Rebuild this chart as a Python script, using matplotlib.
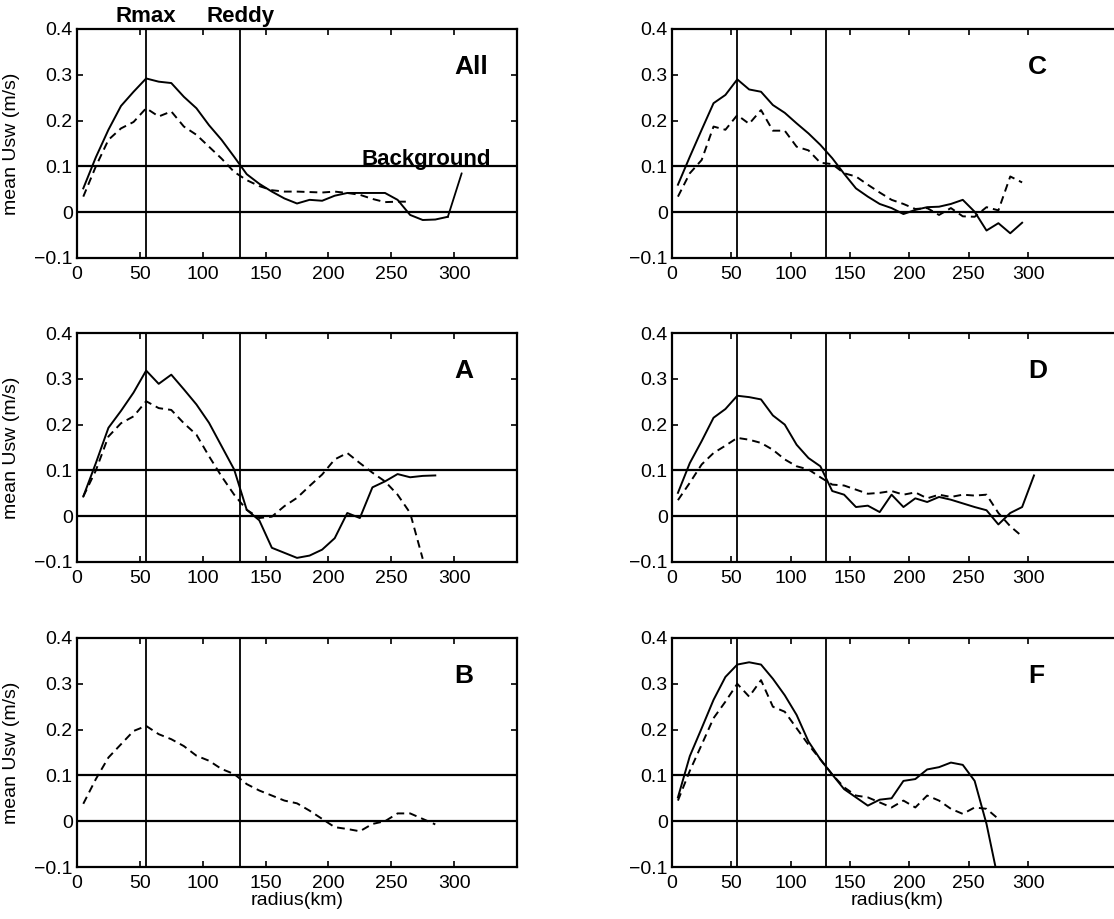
import matplotlib
matplotlib.use("Agg")
import matplotlib.pyplot as plt
from matplotlib.ticker import FixedLocator, FixedFormatter

plt.rcParams['font.family'] = ['Liberation Sans', 'DejaVu Sans']

# radius bins (km), centres every 10 km
r = [5, 15, 25, 35, 45, 55, 65, 75, 85, 95, 105, 115, 125, 135, 145, 155,
     165, 175, 185, 195, 205, 215, 225, 235, 245, 255, 265, 275, 285, 295, 305]

R_MAX = 55
R_EDDY = 130
BACKGROUND = 0.1

# mean Usw (m/s) per storm category, solid and dashed profiles
all_solid = [0.052, 0.12, 0.18, 0.232, 0.263, 0.292, 0.285, 0.282, 0.252, 0.227,
             0.19, 0.158, 0.121, 0.083, 0.062, 0.045, 0.03, 0.019, 0.027, 0.025,
             0.036, 0.042, 0.042, 0.042, 0.042, 0.027, -0.006, -0.017, -0.016, -0.01]
all_dash = [0.034, 0.1, 0.158, 0.183, 0.197, 0.227, 0.209, 0.22, 0.187, 0.169,
            0.143, 0.117, 0.088, 0.07, 0.057, 0.048, 0.045, 0.045, 0.044, 0.043,
            0.045, 0.042, 0.038, 0.029, 0.022, 0.023, 0.023]

a_solid = [0.043, 0.116, 0.193, 0.23, 0.27, 0.318, 0.289, 0.309, 0.277, 0.244,
           0.204, 0.153, 0.102, 0.014, -0.009, -0.069, -0.08, -0.091, -0.086, -0.073,
           -0.048, 0.007, -0.004, 0.063, 0.076, 0.092, 0.085, 0.088, 0.089]
a_dash = [0.043, 0.1, 0.174, 0.203, 0.218, 0.251, 0.236, 0.232, 0.203, 0.178,
          0.131, 0.087, 0.047, 0.014, -0.004, -0.001, 0.022, 0.04, 0.066, 0.091,
          0.124, 0.138, 0.116, 0.095, 0.076, 0.047, 0.007, -0.093]

b_dash = [0.038, 0.092, 0.139, 0.168, 0.197, 0.208, 0.19, 0.179, 0.164, 0.143,
          0.132, 0.114, 0.103, 0.081, 0.067, 0.056, 0.045, 0.039, 0.023, 0.005,
          -0.013, -0.017, -0.022, -0.006, 0.0, 0.017, 0.017, 0.005, -0.007]

c_solid = [0.06, 0.121, 0.18, 0.238, 0.256, 0.29, 0.268, 0.263, 0.234, 0.217,
           0.194, 0.172, 0.147, 0.118, 0.084, 0.052, 0.034, 0.018, 0.009, -0.004,
           0.005, 0.011, 0.012, 0.018, 0.027, 0.001, -0.04, -0.024, -0.046, -0.023]
c_dash = [0.034, 0.085, 0.114, 0.187, 0.18, 0.212, 0.193, 0.223, 0.178, 0.178,
          0.143, 0.135, 0.108, 0.105, 0.085, 0.078, 0.06, 0.043, 0.027, 0.018,
          0.007, 0.009, -0.006, 0.009, -0.009, -0.01, 0.011, 0.004, 0.078, 0.065]

d_solid = [0.051, 0.116, 0.164, 0.215, 0.234, 0.263, 0.26, 0.255, 0.22, 0.2,
           0.156, 0.127, 0.109, 0.055, 0.047, 0.02, 0.023, 0.009, 0.047, 0.02,
           0.039, 0.031, 0.042, 0.036, 0.028, 0.02, 0.013, -0.018, 0.007, 0.02, 0.089]
d_dash = [0.035, 0.073, 0.113, 0.138, 0.154, 0.171, 0.167, 0.16, 0.145, 0.124,
          0.109, 0.102, 0.085, 0.069, 0.067, 0.058, 0.049, 0.051, 0.055, 0.047,
          0.052, 0.039, 0.047, 0.042, 0.047, 0.045, 0.047, 0.007, -0.022, -0.044]

f_solid = [0.052, 0.142, 0.203, 0.265, 0.315, 0.342, 0.347, 0.342, 0.311, 0.275,
           0.232, 0.174, 0.135, 0.102, 0.07, 0.052, 0.034, 0.047, 0.05, 0.088,
           0.092, 0.113, 0.118, 0.128, 0.123, 0.088, -0.006, -0.13]
f_dash = [0.045, 0.11, 0.167, 0.225, 0.261, 0.3, 0.272, 0.308, 0.25, 0.239,
          0.203, 0.167, 0.135, 0.102, 0.074, 0.056, 0.052, 0.041, 0.03, 0.045,
          0.03, 0.056, 0.045, 0.027, 0.016, 0.03, 0.027, 0.005]

panels = [
    ("All", all_solid, all_dash),
    ("C", c_solid, c_dash),
    ("A", a_solid, a_dash),
    ("D", d_solid, d_dash),
    ("B", None, b_dash),
    ("F", f_solid, f_dash),
]

yticks = [-0.1, 0, 0.1, 0.2, 0.3, 0.4]
ytick_labels = ["\u22120.1", "0", "0.1", "0.2", "0.3", "0.4"]
xticks = [0, 50, 100, 150, 200, 250, 300]

W, H = 1114, 919
fig = plt.figure(figsize=(W / 100, H / 100), dpi=100)

# axes frames in pixels: left, bottom, width, height
col_left = [77, 672]
col_width = [440, 451]
col_xmax = [350, 380]
row_bottom = [661, 357, 52]
row_height = 229

for i, (name, solid, dash) in enumerate(panels):
    row, col = divmod(i, 2)
    ax = fig.add_axes([col_left[col] / W, row_bottom[row] / H,
                       col_width[col] / W, row_height / H])
    ax.set_xlim(0, col_xmax[col])
    ax.set_ylim(-0.1, 0.4)

    ax.axvline(R_MAX, color='black', lw=1.3)
    ax.axvline(R_EDDY, color='black', lw=1.3)
    ax.axhline(BACKGROUND, color='black', lw=1.6)
    ax.axhline(0, color='black', lw=1.6)

    if solid is not None:
        ax.plot(r[:len(solid)], solid, color='black', lw=1.4)
    ax.plot(r[:len(dash)], dash, color='black', lw=1.4, dashes=(4, 2.6))

    ax.text(300, 0.318, name, fontsize=19, fontweight='bold', ha='left', va='center')

    ax.xaxis.set_major_locator(FixedLocator(xticks))
    ax.yaxis.set_major_locator(FixedLocator(yticks))
    ax.yaxis.set_major_formatter(FixedFormatter(ytick_labels))
    ax.tick_params(direction='in', length=4, width=1.2, labelsize=14,
                   top=True, right=True)
    ax.tick_params(axis='x', pad=6)
    ax.tick_params(axis='y', pad=3)
    for sp in ax.spines.values():
        sp.set_linewidth(1.6)

    if col == 0:
        ax.set_ylabel("mean Usw (m/s)", fontsize=14)
        ax.yaxis.set_label_coords(-0.13, 0.5)
    if row == 2:
        ax.set_xlabel("radius(km)", fontsize=14)
        ax.xaxis.set_label_coords(0.5, -0.11)

    if name == "All":
        ax.text(R_MAX, 0.405, "Rmax", fontsize=16, fontweight='bold',
                ha='center', va='bottom')
        ax.text(R_EDDY, 0.405, "Reddy", fontsize=16, fontweight='bold',
                ha='center', va='bottom')
        ax.text(226, 0.104, "Background", fontsize=16, fontweight='bold',
                ha='left', va='baseline')
        ax.annotate("", xy=(r[len(solid) - 1], solid[-1]), xytext=(306, 0.085),
                    arrowprops=dict(arrowstyle='-', color='black', lw=1.3,
                                    shrinkA=0, shrinkB=0))

fig.savefig("out.png", dpi=100)
